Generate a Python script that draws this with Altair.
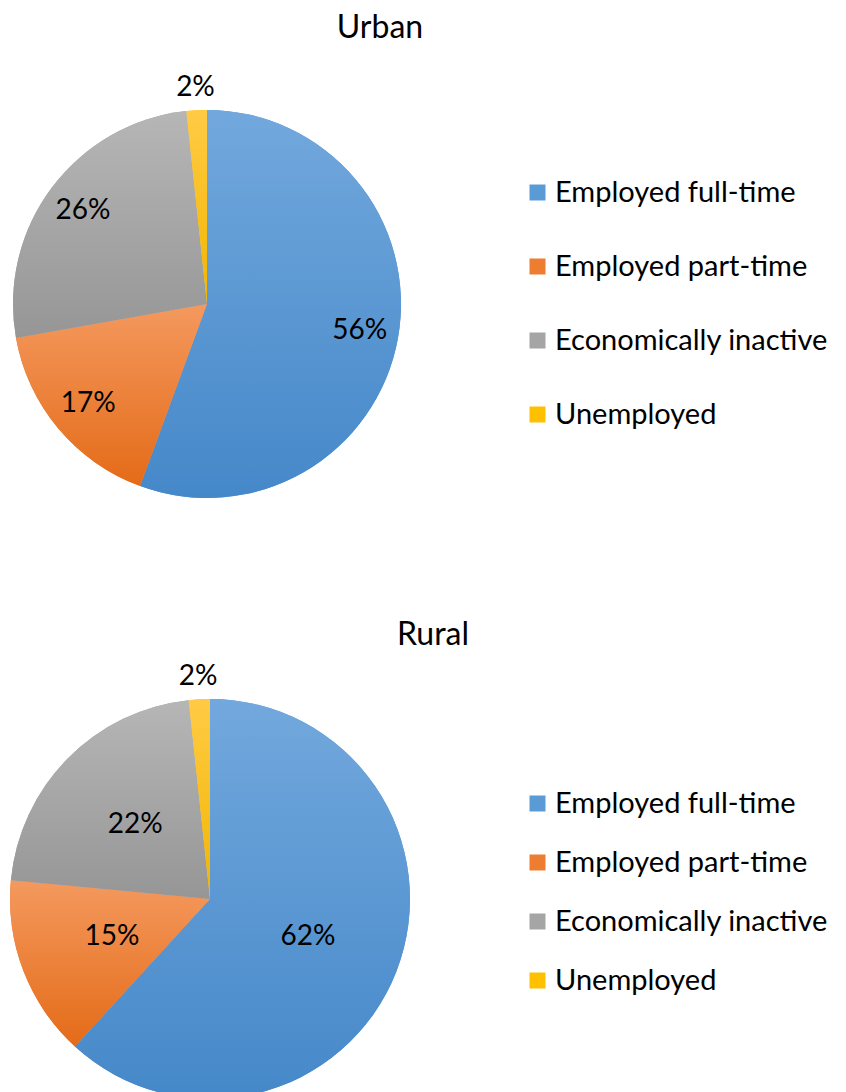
import altair as alt
import pandas as pd

categories = ["Employed full-time", "Employed part-time", "Economically inactive", "Unemployed"]
urban_values = [55.6, 16.6, 26.1, 1.7]
rural_values = [61.8, 14.7, 21.8, 1.7]

solid_colors = ["#5B9BD5", "#ED7D31", "#A5A5A5", "#FFC000"]
grad_top = ["#72A8DD", "#F4995E", "#B6B6B6", "#FFCB45"]
grad_bottom = ["#4588C9", "#E46B18", "#969696", "#F2B500"]

FONT = "Lato"


def gradient(top, bottom):
    return {
        "gradient": "linear",
        "x1": 0, "y1": 0, "x2": 0, "y2": 1,
        "stops": [{"offset": 0, "color": top}, {"offset": 1, "color": bottom}],
    }


def pie(values, title, R, label_r, w, h, title_offset, title_dx, legend_x, legend_y, row_pad):
    df = pd.DataFrame({"category": categories, "value": values, "order": list(range(len(categories)))})
    base = alt.Chart(df).transform_joinaggregate(
        total="sum(value)"
    ).transform_calculate(
        pct="datum.value / datum.total"
    )
    theta = alt.Theta("value:Q", stack=True)
    order = alt.Order("order:Q")

    arcs = base.mark_arc(outerRadius=R).encode(
        theta=theta,
        order=order,
        color=alt.Color(
            "category:N",
            scale=alt.Scale(domain=categories, range=solid_colors),
            legend=alt.Legend(
                title=None, orient="none", legendX=legend_x, legendY=legend_y,
                symbolType="square", symbolSize=256, symbolStrokeWidth=0,
                labelFont=FONT, labelFontSize=29, labelColor="#000000",
                labelOffset=3, rowPadding=row_pad, labelLimit=500,
            ),
        ),
    )

    cond = alt.when(alt.datum.category == categories[0]).then(alt.value(gradient(grad_top[0], grad_bottom[0])))
    for i in range(1, len(categories) - 1):
        cond = cond.when(alt.datum.category == categories[i]).then(alt.value(gradient(grad_top[i], grad_bottom[i])))
    cond = cond.otherwise(alt.value(gradient(grad_top[-1], grad_bottom[-1])))

    grad_arcs = base.mark_arc(outerRadius=R).encode(
        theta=theta,
        order=order,
        detail="category:N",
        color=cond,
    )

    lab = base.transform_stack(
        stack="value", groupby=[], as_=["v0", "v1"], sort=[alt.SortField("order", order="ascending")]
    ).transform_calculate(
        mid="(datum.v0 + datum.v1) / 2 / datum.total * 2 * PI"
    )
    text_enc = dict(
        theta=alt.Theta("mid:Q", scale=None, stack=False),
        text=alt.Text("pct:Q", format=".0%"),
    )
    inner_labels = lab.transform_filter("datum.value >= 5").mark_text(
        radius=label_r, font=FONT, fontSize=28, color="#000000"
    ).encode(**text_enc)
    outer_labels = lab.transform_filter("datum.value < 5").mark_text(
        radius=R + 22, font=FONT, fontSize=28, color="#000000"
    ).encode(**text_enc)

    return alt.layer(arcs, grad_arcs, inner_labels, outer_labels).properties(
        width=w, height=h,
        title=alt.TitleParams(
            title, font=FONT, fontSize=32, fontWeight="normal", color="#000000",
            anchor="middle", frame="group", offset=title_offset, dx=title_dx,
        ),
    )


urban = pie(urban_values, "Urban", 194, 155, 398, 440, 29, 173, 515, 94, 44)
rural = pie(rural_values, "Rural", 200, 105, 404, 440, 11, 223, 515, 110, 29)

chart = alt.vconcat(urban, rural, spacing=95).resolve_scale(
    color="independent"
).resolve_legend(color="independent").properties(
    padding={"top": 4, "left": 0, "right": 0, "bottom": 0}
).configure_view(stroke=None)

chart.save("out.html", embed_options={"renderer": "svg", "actions": False})
